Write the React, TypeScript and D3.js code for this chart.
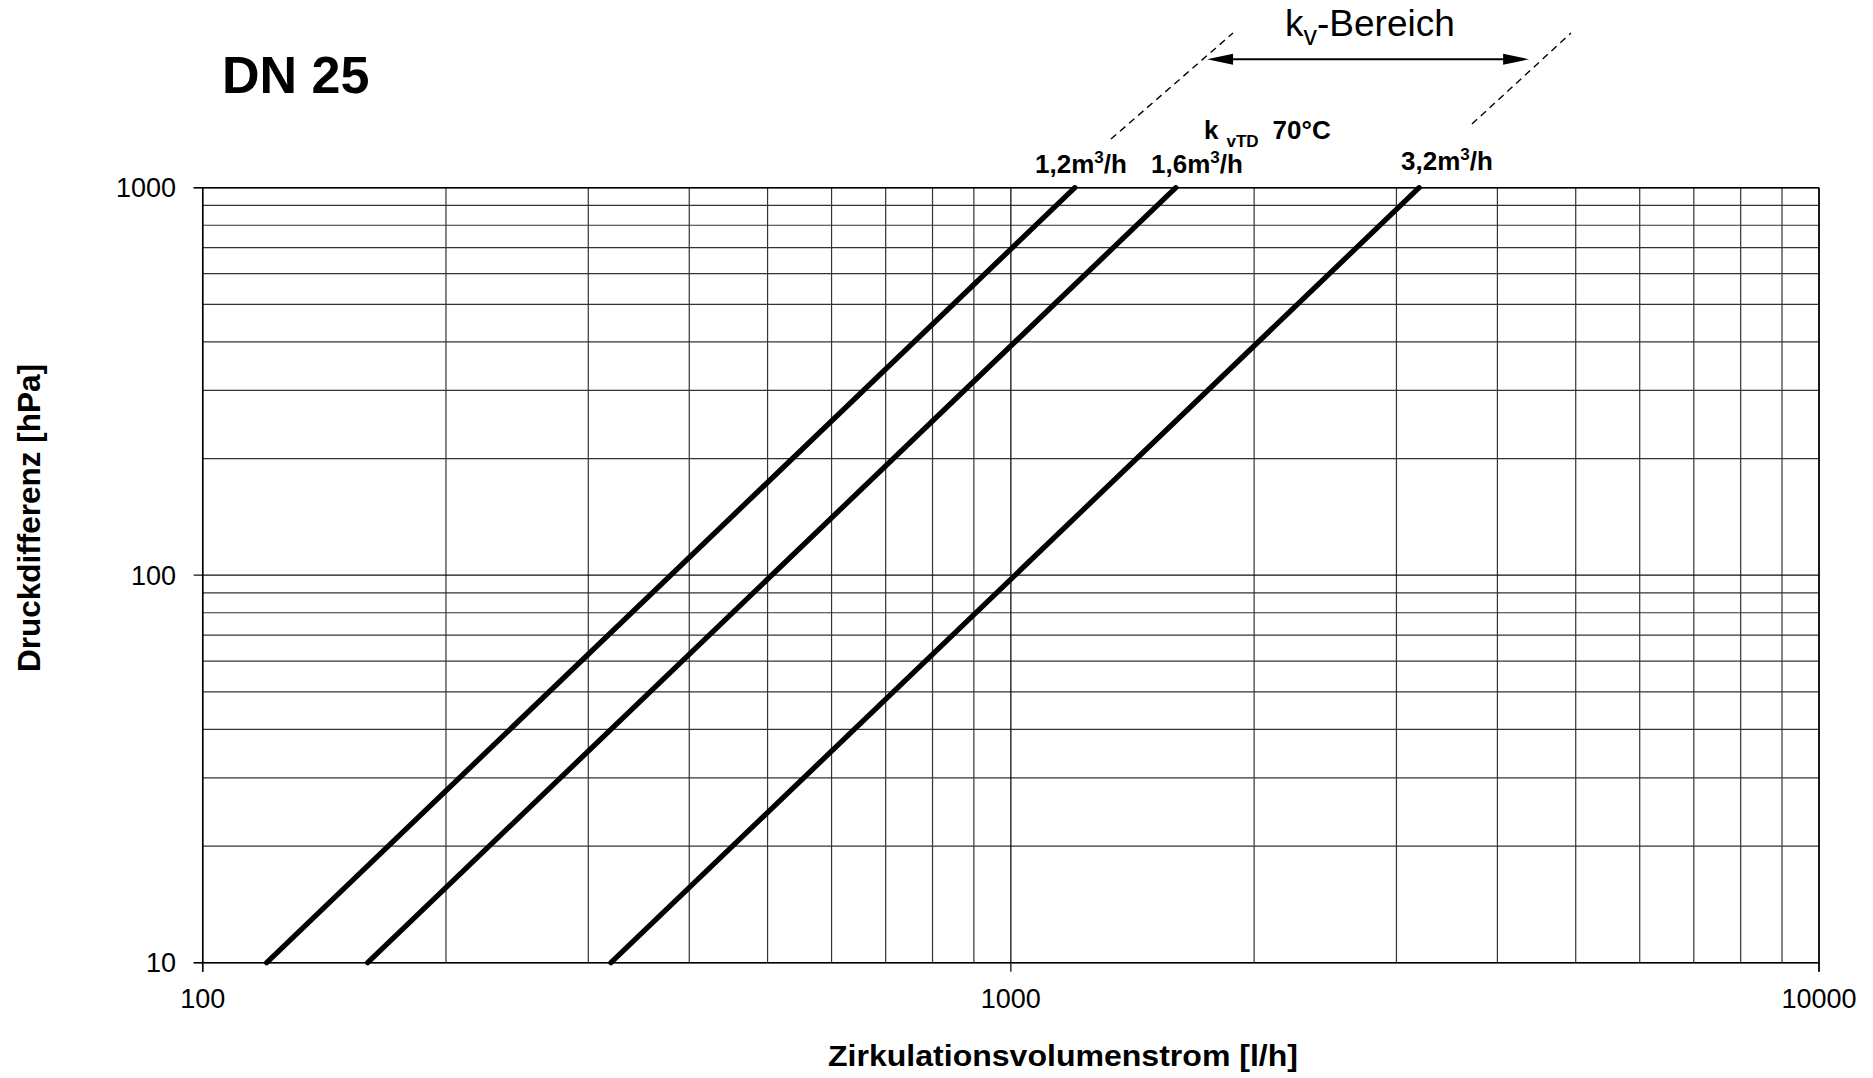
import React from 'react';
import * as d3 from 'd3';

const W = 1873;
const H = 1078;

// axis domains and ticks
const xDomain: [number, number] = [100, 10000];
const yDomain: [number, number] = [10, 1000];
const xTickLabels = [100, 1000, 10000];
const yTickLabels = [10, 100, 1000];
const xGridValues = [200, 300, 400, 500, 600, 700, 800, 900, 2000, 3000, 4000, 5000, 6000, 7000, 8000, 9000];
const yGridValues = [20, 30, 40, 50, 60, 70, 80, 90, 200, 300, 400, 500, 600, 700, 800, 900];

// kv curves: flow [l/h] at start and end pressure [hPa]
const kvNames = ['1,2', '1,6', '3,2'];
const kvFlowStart = [120, 160, 320];
const kvFlowEnd = [1200, 1600, 3200];
const pressureStart = 10;
const pressureEnd = 1000;

// kv-range annotation (data space, beyond the plot)
const rangeLeftDash: [number, number][] = [[1330, 1335], [1883, 2506]];
const rangeRightDash: [number, number][] = [[3720, 1460], [4932, 2506]];
const rangeArrowFlow = [1749, 4378];
const rangeArrowPressure = 2145;

const M = { left: 202.7, right: 1819, top: 187.7, bottom: 962.7 };

export default function App() {
  const x = d3.scaleLog().domain(xDomain).range([M.left, M.right]);
  const y = d3.scaleLog().domain(yDomain).range([M.bottom, M.top]);
  const line = d3
    .line<[number, number]>()
    .x((d) => x(d[0]))
    .y((d) => y(d[1]));

  const font = "Arial, 'Liberation Sans', Helvetica, sans-serif";
  const gridColor = '#333';

  const ax1 = x(rangeArrowFlow[0]);
  const ax2 = x(rangeArrowFlow[1]);
  const ay = y(rangeArrowPressure);
  const ah = 26;
  const aw = 5.5;

  const labelX = [1035, 1151, 1401];
  const labelBase = [173, 173, 170];

  return (
    <svg
      width={W}
      height={H}
      style={{ position: 'absolute', left: 0, top: 0, background: '#fff' }}
      fontFamily={font}
    >
      <rect x={0} y={0} width={W} height={H} fill="#fff" />
      {/* grid */}
      {xGridValues.map((v) => (
        <line key={'gx' + v} x1={x(v)} x2={x(v)} y1={M.top} y2={M.bottom} stroke={gridColor} strokeWidth={1.2} />
      ))}
      {yGridValues.map((v) => (
        <line key={'gy' + v} x1={M.left} x2={M.right} y1={y(v)} y2={y(v)} stroke={gridColor} strokeWidth={1.2} />
      ))}
      {/* decade lines */}
      {xTickLabels.map((v) => (
        <line key={'dx' + v} x1={x(v)} x2={x(v)} y1={M.top} y2={M.bottom + 9} stroke="#111" strokeWidth={1.3} />
      ))}
      {yTickLabels.map((v) => (
        <line key={'dy' + v} x1={M.left - 9} x2={M.right} y1={y(v)} y2={y(v)} stroke="#111" strokeWidth={1.3} />
      ))}
      {/* tick labels */}
      {xTickLabels.map((v) => (
        <text key={'tx' + v} x={x(v)} y={1008} textAnchor="middle" fontSize={27} fill="#000">
          {v}
        </text>
      ))}
      {yTickLabels.map((v) => (
        <text key={'ty' + v} x={176} y={y(v) + 9.5} textAnchor="end" fontSize={27} fill="#000">
          {v}
        </text>
      ))}
      {/* kv lines */}
      {kvNames.map((n, i) => (
        <path
          key={'kv' + n}
          d={line([
            [kvFlowStart[i], pressureStart],
            [kvFlowEnd[i], pressureEnd],
          ]) as string}
          fill="none"
          stroke="#000"
          strokeWidth={5.3}
          strokeLinecap="round"
        />
      ))}
      {/* kv labels */}
      {kvNames.map((n, i) => (
        <text key={'lab' + n} x={labelX[i]} y={labelBase[i]} fontSize={26} fontWeight="bold" fill="#000">
          {n}m
          <tspan fontSize={17} dy={-10}>3</tspan>
          <tspan dy={10}>/h</tspan>
        </text>
      ))}
      <text x={1204} y={138.5} fontSize={26} fontWeight="bold" fill="#000">
        k
        <tspan fontSize={17} dx={8} dy={8}>vTD</tspan>
        <tspan dx={14} dy={-8}>70°C</tspan>
      </text>
      {/* kv-Bereich annotation */}
      <path d={line(rangeLeftDash) as string} fill="none" stroke="#000" strokeWidth={1.4} strokeDasharray="7,5" />
      <path d={line(rangeRightDash) as string} fill="none" stroke="#000" strokeWidth={1.4} strokeDasharray="7,5" />
      <line x1={ax1 + ah - 2} x2={ax2 - ah + 2} y1={ay} y2={ay} stroke="#000" strokeWidth={2} />
      <path d={`M${ax1},${ay} L${ax1 + ah},${ay - aw} L${ax1 + ah},${ay + aw} Z`} fill="#000" />
      <path d={`M${ax2},${ay} L${ax2 - ah},${ay - aw} L${ax2 - ah},${ay + aw} Z`} fill="#000" />
      <text x={1285} y={36} fontSize={37} fill="#000">
        k
        <tspan fontSize={27} dy={9}>v</tspan>
        <tspan dy={-9}>-Bereich</tspan>
      </text>
      {/* title */}
      <text x={222} y={93} fontSize={52} fontWeight="bold" fill="#000">
        DN 25
      </text>
      {/* axis titles */}
      <text x={1063} y={1066} textAnchor="middle" fontSize={30} fontWeight="bold" fill="#000" textLength={470} lengthAdjust="spacingAndGlyphs">
        Zirkulationsvolumenstrom [l/h]
      </text>
      <text
        transform={`translate(39.5,518) rotate(-90)`}
        textAnchor="middle"
        fontSize={31}
        fontWeight="bold"
        fill="#000"
        textLength={308}
        lengthAdjust="spacingAndGlyphs"
      >
        Druckdifferenz [hPa]
      </text>
      {/* frame */}
      <line x1={M.left} x2={M.left} y1={M.top} y2={M.bottom + 9} stroke="#000" strokeWidth={1.5} />
      <line x1={M.left - 9} x2={M.right} y1={M.bottom} y2={M.bottom} stroke="#000" strokeWidth={1.5} />
      <line x1={M.right} x2={M.right} y1={M.top} y2={M.bottom + 9} stroke="#000" strokeWidth={1.5} />
      <line x1={M.left - 9} x2={M.right} y1={M.top} y2={M.top} stroke="#000" strokeWidth={1.5} />
    </svg>
  );
}
